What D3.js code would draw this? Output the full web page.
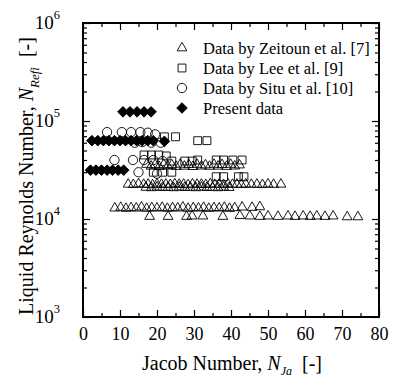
<!DOCTYPE html>
<html>
<head>
<meta charset="utf-8">
<script src="https://cdn.jsdelivr.net/npm/d3@7"></script>
<style>
  body { margin: 0; background: #fff; }
  svg { display: block; font-family: "Liberation Serif", "Times New Roman", serif; }
</style>
</head>
<body>
<div id="chart"></div>
<script>
// Zeitoun et al. [7]
var zeitounJa = [
  17.2, 18.4, 19.5, 20.6, 21.8, 22.9, 24.0, 25.2, 26.3, 27.4, 28.6, 29.7, 30.8, 32.0, 33.1, 34.2, 35.4, 36.5, 37.6, 38.8, 39.9, 41.0, 42.3,
  12.2, 13.6, 15.0, 16.4, 17.6, 18.8, 20.0, 21.2, 22.4, 23.6, 24.8, 26.0, 27.2, 28.4, 29.6, 30.8, 32.0, 33.2, 34.4, 35.6, 36.8, 38.0, 39.2, 40.4, 41.6, 42.8, 44.0, 45.5, 47.0, 48.5, 50.0, 51.5, 53.5,
  17.0, 18.5, 20.0, 21.5, 23.0, 24.5, 26.0, 27.5, 29.0, 30.5, 32.0, 33.5, 35.0, 36.5, 38.0, 39.5,
  8.6, 10.2, 11.6, 13.0, 14.4, 15.8, 17.2, 18.6, 20.0, 21.4, 22.8, 24.2, 25.6, 27.0, 28.4, 29.8, 31.2, 32.6, 34.0, 35.4, 36.8, 38.2, 39.6, 41.0, 43.0, 45.7, 47.8,
  18.0, 23.0, 28.0, 29.5, 32.4, 37.8, 42.4, 45.1, 47.8, 50.0, 52.7, 55.4, 57.3, 59.5, 61.4, 63.2, 65.4, 67.6, 71.4, 74.3
];
var zeitounRe = [
  36000, 34500, 35800, 34200, 36000, 34600, 35700, 34300, 36100, 34500, 35800, 34200, 36000, 34600, 35600, 34400, 36000, 34500, 35800, 34300, 36000, 34600, 35500,
  22600, 22400, 22800, 22500, 22600, 22300, 22700, 22500, 22600, 22400, 22800, 22500, 22600, 22300, 22700, 22500, 22600, 22400, 22800, 22500, 22600, 22400, 22700, 22500, 22600, 22400, 22700, 22500, 22600, 22400, 22700, 22500, 22600,
  21000, 20800, 21100, 20900, 21000, 20800, 21100, 20900, 21000, 20800, 21100, 20900, 21000, 20800, 21100, 20900,
  12900, 13100, 12800, 13000, 12900, 13200, 12800, 13000, 12900, 13100, 12800, 13000, 12900, 13200, 12800, 13000, 12900, 13100, 12800, 13000, 12900, 13100, 12800, 13000, 13200, 13100, 13300,
  10600, 10600, 10600, 10700, 10700, 10600, 10800, 10700, 10600, 10700, 10600, 10700, 10600, 10700, 10600, 10700, 10600, 10700, 10500, 10500
];

// Lee et al. [9]
var leeJa = [22.0, 25.0, 31.0, 33.5,
  16.5, 18.5, 20.5, 22.5, 24.0, 27.5, 29.5, 31.0, 36.0, 38.0, 40.5, 43.0,
  19.0, 21.5, 24.0, 36.0, 38.0, 42.0, 43.5];
var leeRe = [69000, 69000, 63000, 63000,
  45000, 45000, 45000, 44000, 39000, 39000, 39000, 40000, 40000, 40000, 40000, 40000,
  30000, 30000, 30000, 27000, 27000, 27000, 27000];

// Situ et al. [10]
var situJa = [6.5, 10.5, 13.0, 15.5, 17.5, 19.5,
  14.0, 16.0, 18.5, 21.0,
  8.5, 13.5, 16.5, 19.0, 21.5,
  15.0, 20.0];
var situRe = [77000, 77000, 77000, 77000, 76000, 73000,
  60000, 61000, 60000, 60000,
  40000, 40000, 40000, 40000, 39000,
  30000, 29000];

// Present data
var presentJa = [10.8, 12.7, 14.6, 16.5, 18.4,
  2.4, 4.0, 5.5, 7.0, 8.5, 10.0, 11.5, 13.0, 14.5, 16.0, 17.5, 19.0, 22.0,
  2.0, 3.5, 5.0, 6.5, 8.0, 9.5, 11.0];
var presentRe = [124000, 124000, 124000, 124000, 124000,
  63000, 63000, 63000, 63000, 63000, 63000, 63000, 63000, 63000, 63000, 63000, 63000, 62000,
  31500, 31500, 31500, 31500, 31500, 31500, 31500];

var xTicks = [0, 10, 20, 30, 40, 50, 60, 70, 80];
var xMinor = [5, 15, 25, 35, 45, 55, 65, 75];
var yTicks = [1e3, 1e4, 1e5, 1e6];
var yExp = ['3', '4', '5', '6'];
var yMinor = [2e3, 3e3, 4e3, 5e3, 6e3, 7e3, 8e3, 9e3,
  2e4, 3e4, 4e4, 5e4, 6e4, 7e4, 8e4, 9e4,
  2e5, 3e5, 4e5, 5e5, 6e5, 7e5, 8e5, 9e5];
var legendLabels = ['Data by Zeitoun et al. [7]', 'Data by Lee et al. [9]', 'Data by Situ et al. [10]', 'Present data'];

var margin = { left: 83, right: 15, top: 23, bottom: 63 };
var width = 394 - margin.left - margin.right,
    height = 380 - margin.top - margin.bottom;

var svg = d3.select('#chart')
    .append('svg')
    .attr('width', 394)
    .attr('height', 380)
    .append('g')
    .attr('transform', 'translate(' + margin.left + ',' + margin.top + ')');

var x = d3.scaleLinear().domain([0, 80]).range([0, width]);
var y = d3.scaleLog().domain([1e3, 1e6]).range([height, 0]);

function styleAxis(g) {
    g.select('.domain').remove();
    g.selectAll('line').attr('stroke', '#000').attr('stroke-width', 1.2);
}

// bottom axis with labels
svg.append('g')
    .attr('transform', 'translate(0,' + height + ')')
    .call(d3.axisBottom(x).tickValues(xTicks).tickSize(-7).tickPadding(10).tickFormat(d3.format('d')))
    .call(styleAxis)
    .selectAll('text')
    .attr('font-size', '18px')
    .attr('font-family', '"Liberation Serif", serif')
    .attr('fill', '#000');
svg.append('g')
    .attr('transform', 'translate(0,' + height + ')')
    .call(d3.axisBottom(x).tickValues(xMinor).tickSize(-4).tickFormat(''))
    .call(styleAxis);
// top axis
svg.append('g')
    .call(d3.axisTop(x).tickValues(xTicks).tickSize(-7).tickFormat(''))
    .call(styleAxis);
svg.append('g')
    .call(d3.axisTop(x).tickValues(xMinor).tickSize(-4).tickFormat(''))
    .call(styleAxis);
// left / right axes
svg.append('g')
    .call(d3.axisLeft(y).tickValues(yTicks).tickSize(-7).tickFormat(''))
    .call(styleAxis);
svg.append('g')
    .call(d3.axisLeft(y).tickValues(yMinor).tickSize(-4).tickFormat(''))
    .call(styleAxis);
svg.append('g')
    .attr('transform', 'translate(' + width + ',0)')
    .call(d3.axisRight(y).tickValues(yTicks).tickSize(-7).tickFormat(''))
    .call(styleAxis);
svg.append('g')
    .attr('transform', 'translate(' + width + ',0)')
    .call(d3.axisRight(y).tickValues(yMinor).tickSize(-4).tickFormat(''))
    .call(styleAxis);

// y tick labels 10^n
var yLab = svg.selectAll('.ylab')
    .data(yTicks)
    .enter()
    .append('text')
    .attr('class', 'ylab')
    .attr('x', -23)
    .attr('y', function (d) { return y(d) + 6; })
    .attr('text-anchor', 'end')
    .attr('font-size', '19px');
yLab.append('tspan').text('10');
yLab.append('tspan')
    .attr('dy', -10)
    .attr('font-size', '12.5px')
    .text(function (d, i) { return yExp[i]; });

// frame
svg.append('rect')
    .attr('width', width)
    .attr('height', height)
    .attr('fill', 'none')
    .attr('stroke', '#000')
    .attr('stroke-width', 2);

// symbols
var triangle = d3.symbol().type(d3.symbolTriangle).size(42);
var square = d3.symbol().type(d3.symbolSquare).size(62);
var circle = d3.symbol().type(d3.symbolCircle).size(68);
var diamond = d3.symbol().type(d3.symbolSquare).size(56);

function drawSeries(jaArr, reArr, sym, fill, rot) {
    svg.append('g')
        .selectAll('path')
        .data(jaArr)
        .enter()
        .append('path')
        .attr('d', sym)
        .attr('transform', function (d, i) {
            return 'translate(' + x(d) + ',' + y(reArr[i]) + ')' + (rot ? ' rotate(45)' : '');
        })
        .attr('fill', fill)
        .attr('stroke', '#000')
        .attr('stroke-width', 0.9);
}

drawSeries(zeitounJa, zeitounRe, triangle, 'none', false);
drawSeries(leeJa, leeRe, square, 'none', false);
drawSeries(presentJa, presentRe, diamond, '#000', true);
drawSeries(situJa, situRe, circle, 'none', false);

// legend
var legendSyms = [triangle, square, circle, diamond];
var legend = svg.append('g').attr('transform', 'translate(' + (182 - margin.left) + ',' + (48 - margin.top) + ')');
legendLabels.forEach(function (label, i) {
    var row = legend.append('g').attr('transform', 'translate(0,' + (i * 20) + ')');
    row.append('path')
        .attr('d', legendSyms[i])
        .attr('transform', i == 3 ? 'rotate(45)' : null)
        .attr('fill', i == 3 ? '#000' : 'none')
        .attr('stroke', '#000')
        .attr('stroke-width', 0.9);
    row.append('text')
        .attr('x', 21)
        .attr('y', 6)
        .attr('font-size', '16.5px')
        .text(label);
});

// x title
var xt = svg.append('text')
    .attr('x', 232 - margin.left)
    .attr('y', 370 - margin.top)
    .attr('text-anchor', 'middle')
    .attr('font-size', '20px');
xt.append('tspan').text('Jacob Number, ');
xt.append('tspan').attr('font-style', 'italic').text('N');
xt.append('tspan').attr('font-style', 'italic').attr('font-size', '12px').attr('dy', 5).text('Ja');
xt.append('tspan').attr('dy', -5).text('\u00a0\u00a0[-]');

// y title
var yt = svg.append('text')
    .attr('transform', 'translate(' + (33 - margin.left) + ',' + (176 - margin.top) + ') rotate(-90)')
    .attr('text-anchor', 'middle')
    .attr('font-size', '20px');
yt.append('tspan').text('Liquid Reynolds Number, ');
yt.append('tspan').attr('font-style', 'italic').text('N');
yt.append('tspan').attr('font-style', 'italic').attr('font-size', '13px').attr('dy', 6).text('Refi');
yt.append('tspan').attr('dy', -6).text('\u00a0\u00a0[-]');
</script>
</body>
</html>
